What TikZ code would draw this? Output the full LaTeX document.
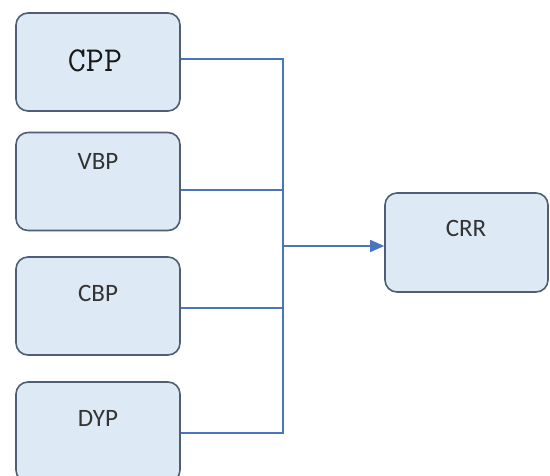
\documentclass[tikz,border=0pt]{standalone}
\usepackage{fontspec}
\setmainfont{Carlito}
\usetikzlibrary{arrows.meta,calc}
\definecolor{boxfill}{HTML}{DDEAF6}
\definecolor{boxline}{HTML}{4F5E72}
\definecolor{conn}{HTML}{4A74C0}
\tikzset{
  blk/.style={draw=boxline, fill=boxfill, line width=1.6pt, rounded corners=12pt, minimum width=164pt, minimum height=98pt, inner sep=0pt},
  lbl/.style={font=\fontsize{25}{25}\selectfont, text=black!80, inner sep=0pt},
  wire/.style={draw=conn, line width=1.5pt}
}
\begin{document}
\begin{tikzpicture}[x=1pt,y=-1pt]
\clip (0,0) rectangle (550,475);
\fill[white] (0,0) rectangle (550,475);
\node[blk] (cpp) at (98,62) {};
\node[blk] (vbp) at (98,181.5) {};
\node[blk] (cbp) at (98,306) {};
\node[blk, minimum height=100pt] (dyp) at (98,432) {};
\node[blk, minimum width=163pt, minimum height=99pt] (crr) at (466.5,242.5) {};
\node[lbl, text=black!90, font=\ttfamily\fontsize{35}{35}\selectfont] (tcpp) at (95,61) {CPP};
\node[lbl] (tvbp) at (98,161) {VBP};
\node[lbl] (tcbp) at (98,293) {CBP};
\node[lbl] (tdyp) at (98,418) {DYP};
\node[lbl] (tcrr) at (466,228) {CRR};
\coordinate (jt) at (283,59);
\coordinate (jb) at (283,433);
\coordinate (jm) at (283,246);
\draw[wire] ($(cpp.east)+(0,-3)$) -- (jt) -- (jb) -- ($(dyp.east)+(0,1)$);
\draw[wire] ($(vbp.east)+(0,8.5)$) -- (283,190);
\draw[wire] ($(cbp.east)+(0,2)$) -- (283,308);
\draw[wire, -{Triangle[length=14pt,width=12pt]}] (jm) -- (crr.west |- jm);
\end{tikzpicture}
\end{document}
